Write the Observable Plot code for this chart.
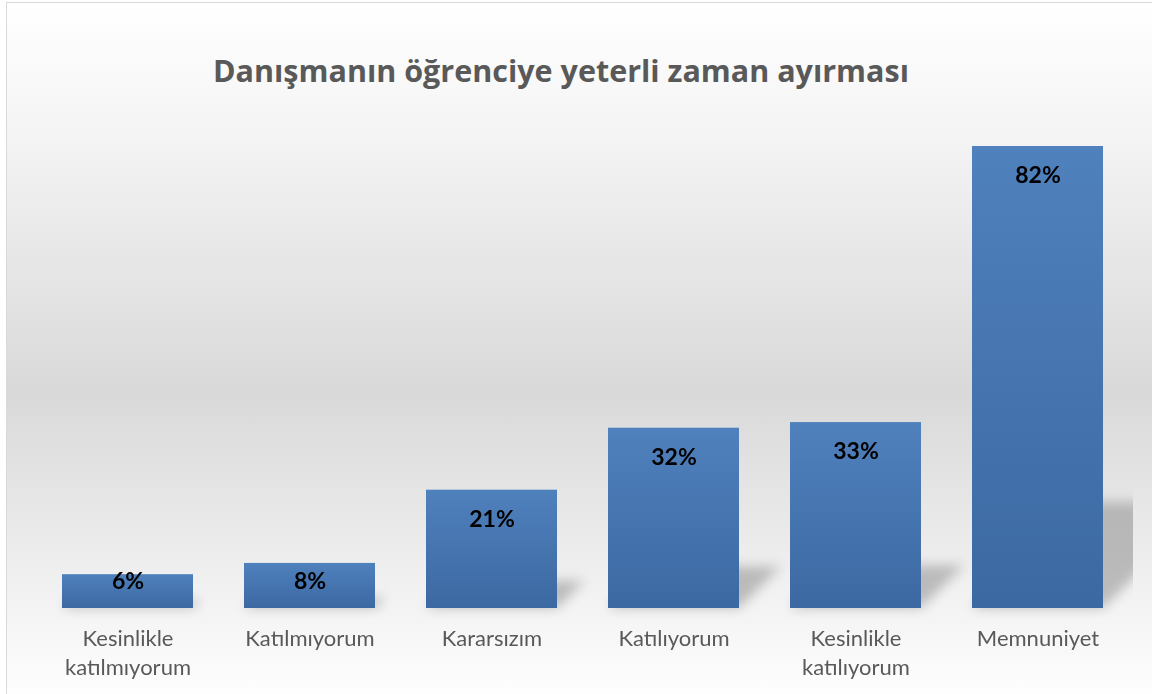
<!DOCTYPE html>
<html>
<head>
<meta charset="utf-8">
<script src="https://cdn.jsdelivr.net/npm/d3@7"></script>
<script src="https://cdn.jsdelivr.net/npm/@observablehq/plot@0.6"></script>
<style>
  html, body { margin: 0; padding: 0; background: #ffffff; overflow: hidden; }
  #page { position: relative; width: 1152px; height: 694px; }
  #frame {
    position: absolute; left: 6px; top: 2px; width: 1170px; height: 710px;
    border: 1px solid #d9d9d9; box-sizing: border-box;
    background: linear-gradient(to bottom, #ffffff 0px, #f6f6f6 110px, #d9d9d9 390px, #f4f4f4 610px, #ffffff 700px);
  }
  #chart { position: absolute; left: 0; top: 0; width: 1152px; }
  #title {
    height: 110px; box-sizing: border-box; padding-top: 52px; width: 1122px;
    text-align: center; font-family: "Open Sans", Lato, sans-serif; font-weight: bold;
    font-size: 30.5px; line-height: 1.2; color: #595959; white-space: nowrap;
  }
  svg { display: block; }
</style>
</head>
<body>
<div id="page">
  <div id="frame"></div>
  <div id="chart">
    <div id="title">Danışmanın öğrenciye yeterli zaman ayırması</div>
    <div id="plot"></div>
  </div>
</div>
<script>
const categories = ["Kesinlikle katılmıyorum", "Katılmıyorum", "Kararsızım", "Katılıyorum", "Kesinlikle katılıyorum", "Memnuniyet"];
const values = [6, 8, 21, 32, 33, 82];
const valueLabels = ["6%", "8%", "21%", "32%", "33%", "82%"];

const data = categories.map((c, i) => ({category: c, value: values[i], label: valueLabels[i]}));

const chart = Plot.plot({
  width: 1152,
  height: 584,
  marginLeft: 36,
  marginRight: 22,
  marginTop: 36,
  marginBottom: 86,
  style: {background: "transparent", fontFamily: "Lato, 'Open Sans', sans-serif", overflow: "visible"},
  x: {domain: categories, paddingInner: 0.28, paddingOuter: 0.14, axis: null},
  y: {domain: [0, 82], axis: null},
  marks: [
    Plot.barY(data, {x: "category", y: d => d.value * 0.23, fill: "#8f8f8f", ariaLabel: () => "shadow"}),
    Plot.barY(data, {x: "category", y: "value", fill: "#4a7ab5", ariaLabel: () => "bars"}),
    Plot.text(data, {
      x: "category",
      y: d => Math.max(d.value - 5.24, 4.8),
      text: "label",
      fontSize: 23,
      fontWeight: "bold",
      fill: "#000000",
      lineAnchor: "middle"
    }),
    Plot.text(data, {
      x: "category",
      y: 0,
      text: d => d.category.replace(" ", "\n"),
      dy: 17,
      lineAnchor: "top",
      lineHeight: 1.32,
      fontSize: 22,
      fill: "#595959"
    })
  ]
});

document.getElementById("plot").appendChild(chart);

// gradient + shadow styling
const svg = d3.select(chart);
const defs = svg.insert("defs", ":first-child");
const grad = defs.append("linearGradient").attr("id", "barGrad").attr("x1", 0).attr("y1", 0).attr("x2", 0).attr("y2", 1);
grad.append("stop").attr("offset", "0%").attr("stop-color", "#4f81bd");
grad.append("stop").attr("offset", "55%").attr("stop-color", "#4573ae");
grad.append("stop").attr("offset", "100%").attr("stop-color", "#3c69a1");
const blur = defs.append("filter").attr("id", "shadowBlur")
  .attr("filterUnits", "userSpaceOnUse")
  .attr("x", 0).attr("y", 0).attr("width", 1200).attr("height", 600);
blur.append("feGaussianBlur").attr("stdDeviation", 6);
const clip = defs.append("clipPath").attr("id", "frameClip");
clip.append("rect").attr("x", 0).attr("y", 0).attr("width", 1133).attr("height", 584);

svg.selectAll('rect[aria-label="bars"]').attr("fill", "url(#barGrad)");
const base = 498;
const shadowRects = svg.selectAll('rect[aria-label="shadow"]');
if (!shadowRects.empty()) {
  const g = d3.select(shadowRects.node().parentNode);
  g.attr("clip-path", "url(#frameClip)");
  const inner = g.append("g").attr("filter", "url(#shadowBlur)").attr("opacity", 0.55);
  shadowRects.each(function() { inner.node().appendChild(this); });
}
shadowRects
  .attr("transform", `translate(0,${base}) skewX(-45) translate(0,${-base})`);
</script>
</body>
</html>
